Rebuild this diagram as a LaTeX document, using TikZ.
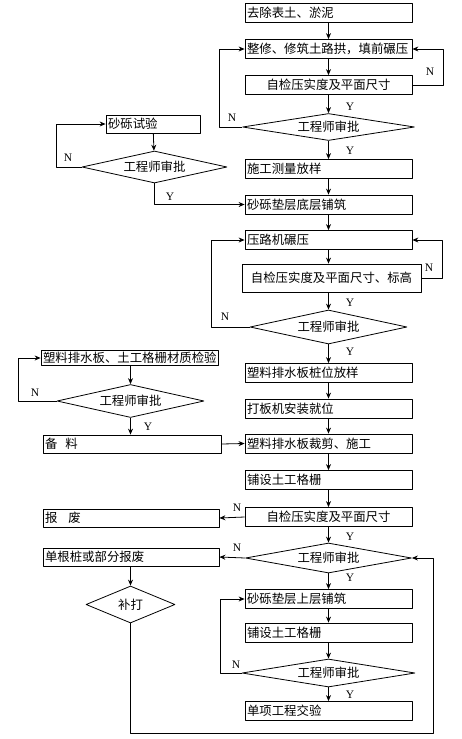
\documentclass[tikz,border=0pt]{standalone}
\usepackage{fontspec}
\setmainfont{Liberation Serif}
\newfontfamily\cjk{Noto Sans CJK SC}
\usetikzlibrary{shapes.geometric,arrows.meta}

\begin{document}
\begin{tikzpicture}[x=1pt, y=-1pt, line width=0.8pt, line join=round, >={Stealth[length=6pt,width=5pt]},
	kuang/.style={draw, rectangle, font=\cjk\fontsize{12.4}{14}\selectfont, inner xsep=2pt, inner ysep=0pt, text width=163pt, minimum height=19pt, align=left},
	ling/.style={draw, diamond, font=\cjk\fontsize{12.4}{14}\selectfont, inner sep=0pt, aspect=6},
	biao/.style={font=\fontsize{11.5}{11.5}\selectfont, inner sep=0pt}]
	\useasboundingbox (0,0) rectangle (462,739);
	% main column
	\node[kuang] (B1) at (328.5,13) {去除表土、淤泥};
	\node[kuang] (B2) at (328.5,49) {整修、修筑土路拱，填前碾压};
	\node[kuang, align=center] (B3) at (328.5,85) {自检压实度及平面尺寸};
	\node[ling, minimum width=172pt, minimum height=27pt] (D1) at (328.5,127) {工程师审批};
	\node[kuang] (B4) at (328.5,169) {施工测量放样};
	\node[kuang] (B5) at (328.5,204.5) {砂砾垫层底层铺筑};
	\node[kuang] (B6) at (328.5,240) {压路机碾压};
	\node[kuang, align=center, text width=175pt, minimum height=28pt] (B7) at (331.5,278) {自检压实度及平面尺寸、标高};
	\node[ling, minimum width=157pt, minimum height=34pt] (D3) at (328.5,327) {工程师审批};
	\node[kuang] (B8) at (328.5,373) {塑料排水板桩位放样};
	\node[kuang] (B9) at (328.5,408.5) {打板机安装就位};
	\node[kuang] (B10) at (328.5,443.5) {塑料排水板裁剪、施工};
	\node[kuang] (B11) at (328.5,480) {铺设土工格栅};
	\node[kuang, align=center] (B12) at (328.5,517) {自检压实度及平面尺寸};
	\node[ling, minimum width=166pt, minimum height=30pt] (D5) at (328.5,558) {工程师审批};
	\node[kuang] (B13) at (328.5,599) {砂砾垫层上层铺筑};
	\node[kuang] (B14) at (328.5,632.5) {铺设土工格栅};
	\node[ling, minimum width=173pt, minimum height=28pt] (D6) at (328.5,673) {工程师审批};
	\node[kuang] (B15) at (328.5,711) {单项工程交验};
	% left column
	\node[kuang, text width=90pt, minimum height=18pt] (L1) at (153,124) {砂砾试验};
	\node[ling, minimum width=145pt, minimum height=32pt] (D2) at (154.5,167) {工程师审批};
	\node[kuang, text width=173pt, minimum height=15pt] (L2) at (129.5,358) {塑料排水板、土工格栅材质检验};
	\node[ling, minimum width=147pt, minimum height=33pt] (D4) at (130.5,401) {工程师审批};
	\node[kuang, text width=174pt, minimum height=18pt] (L3) at (132,444) {备\hspace{8pt}料};
	\node[kuang, text width=172pt, minimum height=18pt] (L4) at (131,518) {报\hspace{11pt}废};
	\node[kuang, text width=172pt, minimum height=18pt] (L5) at (131,557) {单根桩或部分报废};
	\node[ling, aspect=2.4, minimum width=89pt, minimum height=37pt] (D7) at (130.5,604.5) {补打};
	\coordinate (hui) at (433,733);

	% main arrows
	\foreach \a/\b in {B1/B2,B2/B3,B3/D1,D1/B4,B4/B5,B5/B6,B8/B9,B9/B10,B10/B11,B11/B12,B12/D5,D5/B13,B13/B14,B14/D6,D6/B15}
	\draw[->] (\a) -- (\b);
	\draw[->] (B6.south) -- (B6.south |- B7.north);
	\draw[->] (D3.north |- B7.south) -- (D3.north);
	\draw[->] (D3) -- (B8);
	% loops
	\draw[->] (B3.east) -- ++(31,0) |- (B2.east);
	\draw[->] (D1.west) -- ++(-23,0) |- (B2.west);
	\draw[->] (L1) -- (D2);
	\draw[->] (D2.west) -- ++(-25,0) |- (L1.west);
	\draw[->] (D2.south) |- (B5.west);
	\draw[->] (B7.east) -- ++(21,0) |- (B6.east);
	\draw[->] (D3.west) -- ++(-38,0) |- (B6.west);
	\draw[->] (L2.south -| D4.north) -- (D4.north);
	\draw[->] (D4.west) -- ++(-38,0) |- (L2.west);
	\draw[->] (D4.south) -- (D4.south |- L3.north);
	\draw[->] (L3.east) -- (B10.west);
	\draw[->] (B12.west) -- (L4.east);
	\draw[->] (D5.west) -- (L5.east);
	\draw[->] (L5.south -| D7.north) -- (D7.north);
	\draw[->] (D7.south) |- (hui) |- (D5.east);
	\draw[->] (D6.west) -- ++(-21,0) |- (B13.west);
	% labels
	\foreach \x/\y/\t [count=\i] in {350/107/Y,350/151/Y,350/303/Y,350/352/Y,350/537/Y,350/578/Y,350/695/Y,170/197/Y,148/427/Y,
		430/72/N,232/118/N,68/158/N,429/268/N,225/317/N,35/393/N,237/508/N,237/548/N,236/665/N}
	\node[biao] (yn\i) at (\x,\y) {\t};
\end{tikzpicture}
\end{document}
